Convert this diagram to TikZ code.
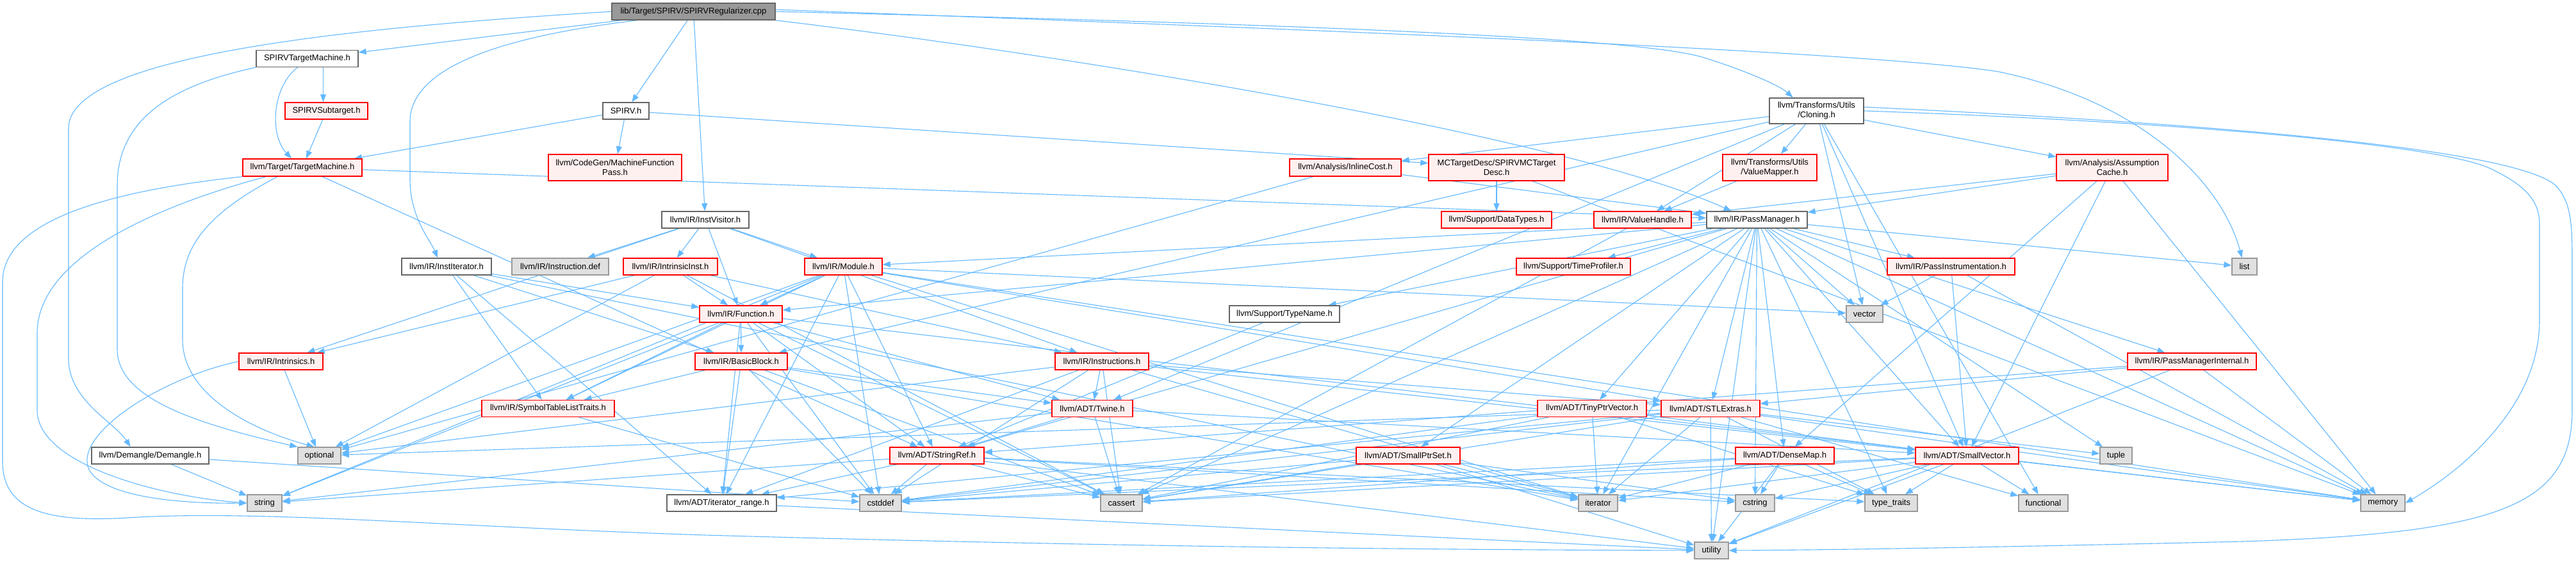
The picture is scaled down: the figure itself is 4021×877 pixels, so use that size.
\documentclass[tikz,border=0pt]{standalone}
\usepackage{fontspec}
\setmainfont{Liberation Sans}
\usetikzlibrary{arrows.meta}
\pgfdeclarelayer{edges}
\pgfsetlayers{edges,main}
\definecolor{edgec}{HTML}{63B8FF}
\definecolor{redb}{HTML}{FF0000}
\definecolor{redf}{HTML}{FFF0F0}
\definecolor{gfour}{HTML}{666666}
\definecolor{gsix}{HTML}{999999}
\definecolor{gfill}{HTML}{E0E0E0}
\tikzset{
 base/.style={rectangle, inner sep=0pt, line width=1.4pt, font=\fontsize{13}{15}\selectfont, align=center},
 rednode/.style={base, draw=redb, fill=redf},
 whitenode/.style={base, draw=gfour, fill=white},
 sysnode/.style={base, draw=gsix, fill=gfill},
 rootnode/.style={base, draw=gfour, fill=gsix},
 edge/.style={draw=edgec, line width=1.1pt, -{Triangle[length=12pt,width=9pt]}},
}
\newcommand\mk[6]{\node[#1, minimum width=#4pt, minimum height=#5pt] (#2) at (#3) {#6};}
\begin{document}
\begin{tikzpicture}[x=1pt,y=-1pt]
\useasboundingbox (0,0) rectangle (4021,877);
\mk{rootnode}{cpp}{1082.5,18}{255}{26}{lib/Target/SPIRV/SPIRVRegularizer.cpp}
\mk{whitenode}{stm}{479.5,91.5}{159}{26}{SPIRVTargetMachine.h}
\mk{rednode}{sub}{509.5,173}{129}{26}{SPIRVSubtarget.h}
\mk{rednode}{tm}{472,261.5}{186}{27}{llvm/Target/TargetMachine.h}
\mk{whitenode}{spirv}{977,173}{72}{26}{SPIRV.h}
\mk{rednode}{mfp}{960,261.5}{208}{41}{llvm/CodeGen/MachineFunction\\Pass.h}
\mk{whitenode}{iv}{1101,343}{136}{26}{llvm/IR/InstVisitor.h}
\mk{whitenode}{ii}{697,416}{140}{26}{llvm/IR/InstIterator.h}
\mk{sysnode}{idef}{874.5,416}{151}{26}{llvm/IR/Instruction.def}
\mk{rednode}{iinst}{1046.5,416}{147}{26}{llvm/IR/IntrinsicInst.h}
\mk{rednode}{mod}{1316.5,416}{121}{26}{llvm/IR/Module.h}
\mk{rednode}{fn}{1156.5,490}{129}{26}{llvm/IR/Function.h}
\mk{rednode}{intr}{438.5,564}{131}{26}{llvm/IR/Intrinsics.h}
\mk{rednode}{bb}{1157,564}{144}{26}{llvm/IR/BasicBlock.h}
\mk{rednode}{stlt}{855.5,637.5}{207}{26}{llvm/IR/SymbolTableListTraits.h}
\mk{rednode}{insts}{1720,564}{146}{26}{llvm/IR/Instructions.h}
\mk{rednode}{twine}{1705,637.5}{126}{26}{llvm/ADT/Twine.h}
\mk{rednode}{sref}{1462.5,711}{147}{26}{llvm/ADT/StringRef.h}
\mk{whitenode}{irange}{1126.5,785}{171}{26}{llvm/ADT/iterator\_range.h}
\mk{whitenode}{dem}{234.5,711}{183}{26}{llvm/Demangle/Demangle.h}
\mk{sysnode}{opt}{498.5,711}{67}{26}{optional}
\mk{sysnode}{str}{413,785}{54}{26}{string}
\mk{sysnode}{cstddef}{1374.5,785}{65}{26}{cstddef}
\mk{sysnode}{cassert}{1750.5,785}{65}{26}{cassert}
\mk{sysnode}{utility}{2671.5,859}{53}{26}{utility}
\mk{whitenode}{tname}{2005,490}{172}{26}{llvm/Support/TypeName.h}
\mk{rednode}{icost}{2100,261.5}{174}{27}{llvm/Analysis/InlineCost.h}
\mk{rednode}{mcdesc}{2336,261.5}{212}{41}{MCTargetDesc/SPIRVMCTarget\\Desc.h}
\mk{rednode}{dtypes}{2336,343}{172}{26}{llvm/Support/DataTypes.h}
\mk{rednode}{vh}{2564,343}{152}{26}{llvm/IR/ValueHandle.h}
\mk{rednode}{tprof}{2456,416}{178}{26}{llvm/Support/TimeProfiler.h}
\mk{whitenode}{clone}{2835.5,173}{147}{40}{llvm/Transforms/Utils\\/Cloning.h}
\mk{rednode}{vmap}{2762.5,261.5}{147}{41}{llvm/Transforms/Utils\\/ValueMapper.h}
\mk{rednode}{ac}{3297,261.5}{174}{41}{llvm/Analysis/Assumption\\Cache.h}
\mk{whitenode}{pm}{2742.5,343}{157}{26}{llvm/IR/PassManager.h}
\mk{rednode}{pinst}{3045.5,416}{199}{26}{llvm/IR/PassInstrumentation.h}
\mk{sysnode}{list}{3503.5,416}{39}{26}{list}
\mk{sysnode}{vector}{2910.5,490}{57}{26}{vector}
\mk{rednode}{pmi}{3421.5,564}{201}{26}{llvm/IR/PassManagerInternal.h}
\mk{rednode}{tpv}{2485,637.5}{170}{26}{llvm/ADT/TinyPtrVector.h}
\mk{rednode}{stlx}{2670,637.5}{154}{26}{llvm/ADT/STLExtras.h}
\mk{rednode}{sps}{2198,711}{162}{26}{llvm/ADT/SmallPtrSet.h}
\mk{sysnode}{iter}{2494.5,785}{61}{26}{iterator}
\mk{rednode}{dmap}{2786,711}{154}{26}{llvm/ADT/DenseMap.h}
\mk{rednode}{svec}{3070.5,711}{161}{26}{llvm/ADT/SmallVector.h}
\mk{sysnode}{cstring}{2739.5,785}{61}{26}{cstring}
\mk{sysnode}{ttraits}{2952,785}{82}{26}{type\_traits}
\mk{sysnode}{func}{3189.5,785}{77}{26}{functional}
\mk{sysnode}{tuple}{3303,711}{50}{26}{tuple}
\mk{sysnode}{memory}{3719.5,785}{69}{26}{memory}
\begin{pgfonlayer}{edges}
\foreach \a/\b in {cpp/spirv, cpp/stm, cpp/iv,
 sub/tm, spirv/mfp, spirv/mcdesc, spirv/tm,
 mcdesc/dtypes, mcdesc/memory, tm/pm, tm/sref, dem/str, dem/cstddef,
 ii/irange, ii/bb, ii/fn, ii/stlt, ii/iter,
 iv/fn, iv/insts, iv/iinst, iv/intr, iv/mod, iv/idef,
 iinst/fn, iinst/insts, iinst/intr, iinst/cassert, iinst/opt,
 mod/stlx, mod/sref, mod/irange, mod/fn, mod/stlt, mod/cstddef, mod/iter, mod/memory, mod/opt, mod/str, mod/vector,
 fn/sref, fn/twine, fn/irange, fn/bb, fn/stlt, fn/cassert, fn/cstddef, fn/memory, fn/str,
 bb/twine, bb/irange, bb/stlt, bb/cassert, bb/cstddef, bb/iter, stlt/cstddef,
 insts/stlx, insts/svec, insts/twine, insts/irange, insts/cassert, insts/cstddef, insts/iter, insts/opt,
 twine/svec, twine/sref, twine/cassert, twine/str,
 sref/irange, sref/cassert, sref/cstddef, sref/cstring, sref/str, sref/ttraits, sref/utility,
 irange/utility, intr/opt,
 pm/dmap, pm/stlx, pm/sps, pm/svec, pm/sref, pm/tpv, pm/fn, pm/mod, pm/pinst, pm/pmi, pm/tprof, pm/tname, pm/cassert, pm/cstring, pm/iter, pm/list, pm/memory, pm/tuple, pm/ttraits, pm/utility, pm/vector,
 pinst/vector, pinst/svec, pinst/memory,
 pmi/stlx, pmi/sref, pmi/memory, pmi/utility, tname/sref,
 tpv/svec, tpv/cassert, tpv/cstddef, tpv/iter, tpv/ttraits,
 stlx/irange, stlx/cassert, stlx/cstddef, stlx/func, stlx/iter, stlx/memory, stlx/opt, stlx/tuple, stlx/ttraits, stlx/utility,
 sps/cassert, sps/cstddef, sps/cstring, sps/iter, sps/utility,
 dmap/cassert, dmap/cstddef, dmap/cstring, dmap/iter, dmap/ttraits, dmap/utility,
 svec/cassert, svec/cstddef, svec/cstring, svec/func, svec/iter, svec/memory, svec/ttraits, svec/utility,
 clone/svec, clone/twine, clone/ac, clone/icost, clone/bb, clone/vh, clone/vmap, clone/func, clone/vector,
 icost/pm, icost/opt, ac/dmap, ac/svec, ac/pm, ac/vh, ac/memory, vh/cassert, vmap/vh}
 \draw[edge] (\a) -- (\b);
\draw[edge] (cpp.south east) .. controls (1700,90) and (2450,215) .. ([xshift=-40pt]pm.north);
\draw[edge] ([xshift=25pt]stm.south) -- ([xshift=-5pt]sub.north);
\draw[edge] ([xshift=-15pt]stm.south) .. controls (425,135) and (420,210) .. ([xshift=-17pt]tm.north);
\draw[edge] (cpp.west) .. controls (600,40) and (107,80) .. (107,200) -- (107,560) .. controls (107,625) and (180,660) .. ([xshift=-31pt]dem.north);
\draw[edge] ([xshift=-88pt]cpp.south) .. controls (800,55) and (640,100) .. (640,190) -- (640,280) .. controls (640,340) and (672,375) .. ([xshift=-14pt]ii.north);
\draw[edge] (cpp.east) .. controls (1900,35) and (2550,55) .. (2660,90) .. controls (2730,112) and (2780,135) .. ([xshift=-37pt]clone.north);
\draw[edge] ([yshift=3pt]cpp.east) .. controls (2300,55) and (2950,85) .. (3120,112) .. controls (3350,160) and (3470,290) .. ([xshift=-4pt]list.north);
\draw[edge] (stm.south west) .. controls (260,135) and (183,190) .. (183,290) -- (183,545) .. controls (183,620) and (300,660) .. (opt.north west);
\draw[edge] ([xshift=-39pt]tm.south) .. controls (330,330) and (285,380) .. (285,450) -- (285,530) .. controls (285,615) and (390,670) .. ([xshift=-8pt]opt.north);
\draw[edge] ([xshift=-57pt]tm.south) .. controls (250,320) and (58,400) .. (58,520) -- (58,640) .. controls (58,725) and (250,775) .. (str.west);
\draw[edge] (tm.south west) .. controls (150,300) and (4,350) .. (4,440) -- (4,720) .. controls (4,800) and (80,815) .. (200,808) .. controls (400,795) and (700,822) .. (1100,835) .. controls (1800,855) and (2300,858) .. (utility.west);
\draw[edge] (intr.west) .. controls (250,590) and (110,680) .. (140,735) .. controls (170,780) and (300,786) .. (str.west);
\draw[edge] (clone.east) .. controls (3400,190) and (3800,225) .. (3885,262) .. controls (3945,290) and (3964,315) .. (3964,350) -- (3964,500) .. controls (3964,630) and (3850,730) .. (memory.east);
\draw[edge] ([yshift=6pt]clone.east) .. controls (3500,195) and (3930,235) .. (3990,290) .. controls (4012,315) and (4015,345) .. (4015,400) -- (4015,640) .. controls (4015,790) and (3900,832) .. (3500,845) .. controls (3200,852) and (2900,858) .. (utility.east);
\end{pgfonlayer}
\end{tikzpicture}
\end{document}
